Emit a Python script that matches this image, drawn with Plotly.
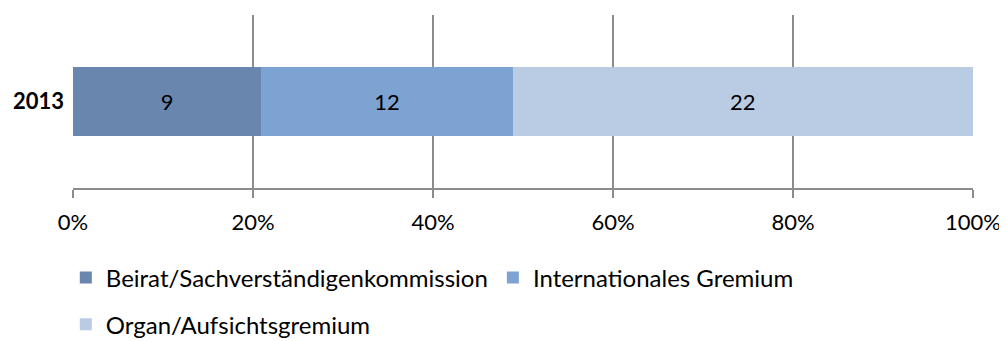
import plotly.graph_objects as go

categories = ["2013"]
series_names = ["Beirat/Sachverständigenkommission", "Internationales Gremium", "Organ/Aufsichtsgremium"]
series_values = [[9], [12], [22]]
colors = ["#6886AE", "#7DA3D2", "#B9CCE4"]
tick_vals = [0, 20, 40, 60, 80, 100]
tick_text = ["0%", "20%", "40%", "60%", "80%", "100%"]

FONT = "Lato, Carlito, Calibri, sans-serif"

fig = go.Figure()
for i, (name, vals) in enumerate(zip(series_names, series_values)):
    fig.add_trace(go.Bar(
        y=categories, x=vals, name=name, orientation="h",
        marker=dict(color=colors[i], line=dict(width=0)),
        text=[str(v) for v in vals], textposition="inside",
        insidetextanchor="middle",
        textfont=dict(color="black", size=22, family=FONT),
        width=0.4,
        legend="legend" if i < 2 else "legend2",
        hoverinfo="skip",
    ))

fig.update_layout(
    barmode="stack", barnorm="percent",
    width=999, height=333,
    margin=dict(l=65, r=34, t=7, b=153, autoexpand=False),
    plot_bgcolor="white", paper_bgcolor="white",
    font=dict(family=FONT, size=22, color="black"),
    showlegend=True,
    legend=dict(orientation="h", x=-0.008, y=-0.52, xanchor="left", yanchor="middle",
                font=dict(size=24, family=FONT), itemwidth=30, traceorder="normal"),
    legend2=dict(orientation="h", x=-0.008, y=-0.79, xanchor="left", yanchor="middle",
                 font=dict(size=24, family=FONT), itemwidth=30),
    uniformtext=dict(mode="show", minsize=10),
)
fig.update_xaxes(
    range=[0, 100], tickvals=tick_vals, ticktext=tick_text,
    showgrid=True, gridcolor="#8C8C8C", gridwidth=1.5,
    showline=True, linecolor="#8C8C8C", linewidth=1.5,
    ticks="outside", ticklen=8, tickcolor="#8C8C8C", tickwidth=1.5,
    ticklabelstandoff=6, zeroline=False, automargin=False,
    tickfont=dict(size=22, family=FONT),
)
fig.update_yaxes(
    range=[-0.5, 0.5], showgrid=False, zeroline=False, showline=False,
    tickfont=dict(size=22, family=FONT, weight="bold"),
    ticks="", ticklabelstandoff=8, automargin=False,
)

fig.write_html("out.html")
